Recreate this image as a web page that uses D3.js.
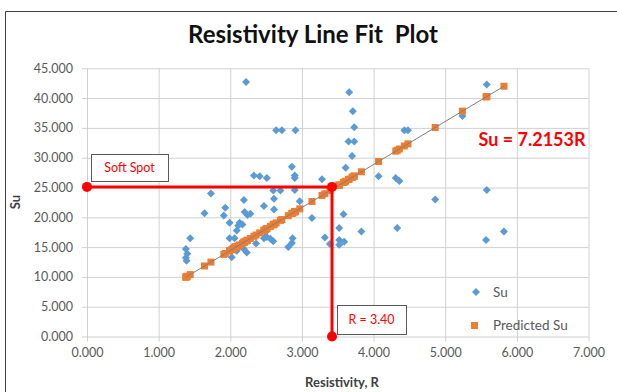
<!DOCTYPE html>
<html>
<head>
<meta charset="utf-8">
<script src="https://cdn.jsdelivr.net/npm/d3@7"></script>
<style>
  body { margin: 0; background: #fff; }
  svg { font-family: Lato, "Open Sans", sans-serif; }
  text { white-space: pre; }
</style>
</head>
<body>
<svg id="chart" width="617" height="392"></svg>
<script>
'use strict';
var resistivity = [1.38, 1.40, 1.38, 1.39, 1.44, 1.64, 1.73, 1.93, 1.91, 1.99,
    1.99, 2.06, 2.09, 2.03, 2.09, 2.02, 2.13, 2.17, 2.11, 2.19,
    2.20, 2.24, 2.19, 2.23, 2.22, 2.28, 2.33, 2.41, 2.36, 2.47,
    2.51, 2.47, 2.51, 2.56, 2.60, 2.49, 2.60, 2.70, 2.61, 2.61,
    2.64, 2.72, 2.91, 2.86, 2.90, 2.90, 2.90, 2.97, 2.87, 2.86,
    2.81, 3.14, 3.28, 3.32, 3.39, 3.52, 3.52, 3.59, 3.52, 3.58,
    3.61, 3.66, 3.71, 3.73, 3.65, 3.73, 3.70, 3.83, 4.07, 4.33,
    4.31, 4.36, 4.43, 4.48, 4.86, 5.24, 5.58, 5.58, 5.57, 5.82];
var su = [14.7, 13.9, 13.2, 12.7, 16.5, 20.7, 24.0, 21.6, 20.3, 19.1,
    16.5, 16.5, 17.8, 15.0, 14.4, 13.3, 19.1, 18.8, 18.6, 22.9,
    20.9, 20.4, 14.7, 14.1, 42.7, 20.6, 27.0, 26.9, 15.6, 21.9,
    26.6, 16.5, 16.7, 16.4, 16.0, 17.5, 24.5, 24.5, 23.1, 21.3,
    34.6, 34.6, 34.6, 28.5, 27.0, 26.6, 24.6, 22.7, 16.5, 15.7,
    15.0, 19.9, 26.4, 16.6, 15.5, 18.2, 16.2, 15.9, 15.4, 20.5,
    28.3, 41.0, 37.8, 35.1, 32.7, 32.7, 30.3, 17.6, 26.9, 18.2,
    26.6, 26.1, 34.6, 34.6, 23.0, 37.0, 42.3, 24.6, 16.2, 17.6];
var fitSlope = 7.2153; // Su = 7.2153R
var xTicks = [0, 1, 2, 3, 4, 5, 6, 7];
var yTicks = [0, 5, 10, 15, 20, 25, 30, 35, 40, 45];
var softR = 3.42, softSu = 25.1;

var svg = d3.select('#chart');
var x = d3.scaleLinear().domain([0, 7]).range([87, 588.5]);
var y = d3.scaleLinear().domain([0, 45]).range([336.5, 68.3]);
var fmt = d3.format('.3f');
var points = resistivity.map(function(r, i){
    return {r: r, su: su[i], pred: fitSlope * r};
});

// chart frame
svg.append('path')
    .attr('d', 'M5.5,392 V11.5 H617')
    .attr('fill', 'none')
    .attr('stroke', '#404040')
    .attr('stroke-width', 1);

// title
svg.append('text')
    .attr('x', 313).attr('y', 43)
    .attr('text-anchor', 'middle')
    .attr('font-size', '24px').attr('font-weight', 'bold')
    .attr('fill', '#111')
    .text('Resistivity Line Fit  Plot');

// axes + gridlines
var yAxis = svg.append('g')
    .attr('transform', 'translate(' + x(0) + ',0)')
    .call(d3.axisLeft(y).tickValues(yTicks).tickFormat(fmt)
        .tickSizeInner(-(x(7) - x(0))).tickSizeOuter(0).tickPadding(14));
yAxis.selectAll('.tick line').attr('x1', -5);
var xAxis = svg.append('g')
    .attr('transform', 'translate(0,' + y(0) + ')')
    .call(d3.axisBottom(x).tickValues(xTicks).tickFormat(fmt)
        .tickSizeInner(-(y(0) - y(45))).tickSizeOuter(0).tickPadding(12));
xAxis.selectAll('.tick line').attr('y1', 5);
svg.selectAll('.domain').remove();
svg.selectAll('.tick line').attr('stroke', '#d0d0d0').attr('stroke-width', 1);
svg.selectAll('.tick text')
    .attr('fill', '#595959')
    .attr('font-size', '12.5px')
    .attr('font-family', 'Lato, sans-serif');

// axis titles
svg.append('text')
    .attr('x', 342).attr('y', 387)
    .attr('text-anchor', 'middle')
    .attr('font-size', '13px').attr('font-weight', 'bold')
    .attr('fill', '#404040')
    .text('Resistivity, R');
svg.append('text')
    .attr('transform', 'translate(20,202) rotate(-90)')
    .attr('text-anchor', 'middle')
    .attr('font-size', '13px').attr('font-weight', 'bold')
    .attr('fill', '#404040')
    .text('Su');

// Su points
var diamond = 'M0,-4L4,0L0,4L-4,0Z';
svg.append('g').selectAll('path')
    .data(points)
    .enter()
    .append('path')
    .attr('d', diamond)
    .attr('transform', function(d){ return 'translate(' + x(d.r) + ',' + y(d.su) + ')'; })
    .attr('fill', '#5B9BD5');

// predicted Su
svg.append('g').selectAll('rect')
    .data(points)
    .enter()
    .append('rect')
    .attr('x', function(d){ return x(d.r) - 3.5; })
    .attr('y', function(d){ return y(d.pred) - 3.5; })
    .attr('width', 7).attr('height', 7)
    .attr('fill', '#ED7D31');

// fit line
var rExt = d3.extent(resistivity);
svg.append('line')
    .attr('x1', x(rExt[0])).attr('y1', y(fitSlope * rExt[0]))
    .attr('x2', x(rExt[1])).attr('y2', y(fitSlope * rExt[1]))
    .attr('stroke', '#7f7f7f').attr('stroke-width', 1);

// soft spot annotation
var red = '#FF0000';
svg.append('path')
    .attr('d', 'M' + x(0) + ',' + y(softSu) + 'H' + x(softR) + 'V' + y(0))
    .attr('fill', 'none').attr('stroke', red).attr('stroke-width', 3);
svg.selectAll('.softdot')
    .data([[0, softSu], [softR, softSu], [softR, 0]])
    .enter()
    .append('circle')
    .attr('class', 'softdot')
    .attr('cx', function(d){ return x(d[0]); })
    .attr('cy', function(d){ return y(d[1]); })
    .attr('r', 5)
    .attr('fill', red);

function labelBox(x0, y0, w, h, txt){
    svg.append('rect')
        .attr('x', x0 + 0.5).attr('y', y0 + 0.5)
        .attr('width', w).attr('height', h)
        .attr('fill', '#fff').attr('stroke', '#595959').attr('stroke-width', 1);
    svg.append('text')
        .attr('x', x0 + w/2).attr('y', y0 + h/2 + 4.5)
        .attr('text-anchor', 'middle')
        .attr('font-size', '12.5px')
        .attr('fill', red)
        .text(txt);
}
labelBox(91, 154, 77, 27, 'Soft Spot');
labelBox(337, 305, 69, 29, 'R = 3.40');

svg.append('text')
    .attr('x', 532).attr('y', 146)
    .attr('text-anchor', 'middle')
    .attr('font-size', '18px').attr('font-weight', 'bold')
    .attr('fill', red)
    .text('Su = 7.2153R');

// legend
var legend = svg.append('g').attr('font-size', '13.5px').attr('fill', '#595959');
legend.append('path').attr('d', diamond).attr('transform', 'translate(476,292)').attr('fill', '#5B9BD5');
legend.append('text').attr('x', 493).attr('y', 297).text('Su');
legend.append('rect').attr('x', 471).attr('y', 322).attr('width', 7).attr('height', 7).attr('fill', '#ED7D31');
legend.append('text').attr('x', 493).attr('y', 330).text('Predicted Su');
</script>
</body>
</html>
